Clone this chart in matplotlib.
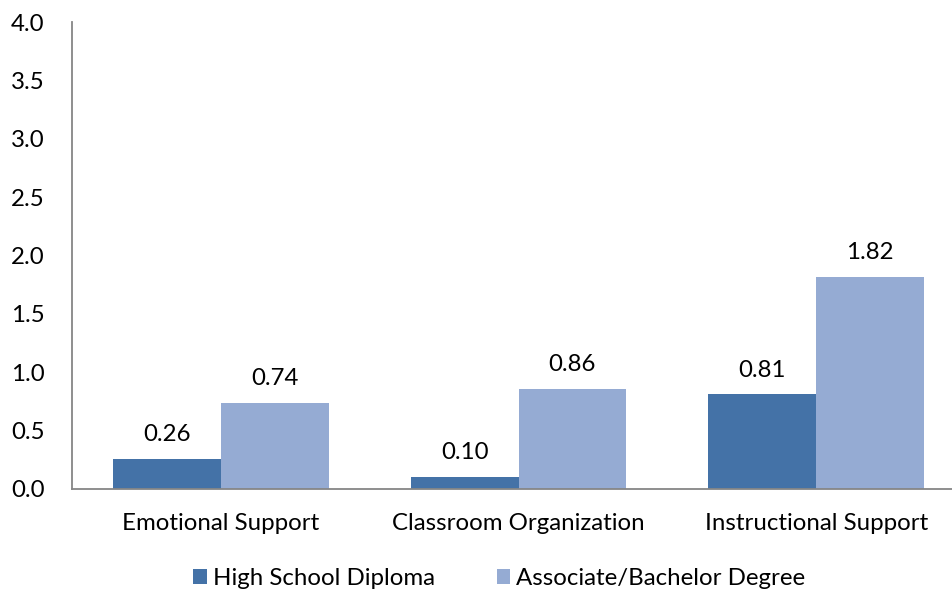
import matplotlib
matplotlib.use("Agg")
import matplotlib.pyplot as plt
import numpy as np

categories = ["Emotional Support", "Classroom Organization", "Instructional Support"]
series_names = ["High School Diploma", "Associate/Bachelor Degree"]
high_school = [0.26, 0.10, 0.81]
assoc_bach = [0.74, 0.86, 1.82]
yticks = [0.0, 0.5, 1.0, 1.5, 2.0, 2.5, 3.0, 3.5, 4.0]

colors = ["#4472A7", "#95ABD3"]

plt.rcParams['font.family'] = ['Lato', 'DejaVu Sans']
FS = 17.3
fig = plt.figure(figsize=(9.53, 5.91), dpi=100)
ax = fig.add_axes([0.0756, 0.1726, 0.937, 0.790])

x = np.arange(len(categories))
w = 0.362
b1 = ax.bar(x - w/2, high_school, w, color=colors[0], label=series_names[0])
b2 = ax.bar(x + w/2, assoc_bach, w, color=colors[1], label=series_names[1])
for bars, vals in ((b1, high_school), (b2, assoc_bach)):
    for r, v in zip(bars, vals):
        ax.annotate(f"{v:.2f}", (r.get_x() + r.get_width()/2, v), xytext=(0, 10),
                    textcoords="offset points", ha="center", va="bottom", fontsize=FS)

ax.set_xlim(-0.5, 2.5)
ax.set_ylim(0, 4.0)
ax.set_yticks(yticks)
ax.set_yticklabels([f"{t:.1f}" for t in yticks], fontsize=FS)
ax.set_xticks(x)
ax.set_xticklabels(categories, fontsize=FS)
ax.tick_params(axis='both', length=0)
ax.tick_params(axis='y', pad=20)
ax.tick_params(axis='x', pad=17)
for s in ("top", "right"):
    ax.spines[s].set_visible(False)
for s in ("left", "bottom"):
    ax.spines[s].set_color("#868686")
    ax.spines[s].set_linewidth(1.3)

fig.legend(handles=[b1, b2], labels=series_names, loc="center", bbox_to_anchor=(0.524, 0.021),
           ncol=2, frameon=False, fontsize=FS, handlelength=0.55, handleheight=0.55,
           handletextpad=0.25, columnspacing=2.6, borderpad=0)

fig.savefig("out.png", dpi=100)
